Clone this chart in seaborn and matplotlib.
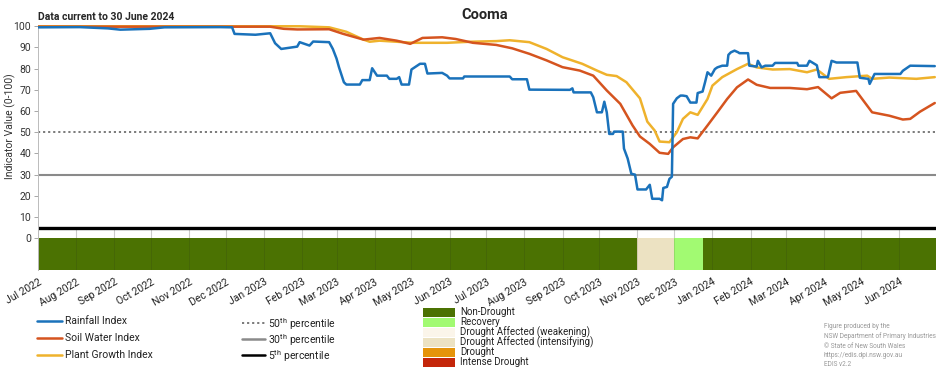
import pandas as pd
import seaborn as sns
import matplotlib.pyplot as plt
import matplotlib.dates as mdates
from matplotlib.lines import Line2D
from matplotlib.patches import Rectangle

# Rainfall Index
rain_dates = [
    '2022-07-01', '2022-08-04', '2022-08-27', '2022-09-06', '2022-09-30', '2022-10-12',
    '2022-11-26', '2022-12-06', '2022-12-08', '2022-12-25', '2023-01-06', '2023-01-10',
    '2023-01-15', '2023-01-28', '2023-01-30', '2023-02-07', '2023-02-10', '2023-02-23',
    '2023-02-26', '2023-03-01', '2023-03-03', '2023-03-07', '2023-03-09', '2023-03-20',
    '2023-03-22', '2023-03-28', '2023-03-30', '2023-04-03', '2023-04-11', '2023-04-13',
    '2023-04-19', '2023-04-21', '2023-04-23', '2023-04-29', '2023-05-01', '2023-05-08',
    '2023-05-12', '2023-05-14', '2023-05-26', '2023-05-30', '2023-06-01', '2023-06-12',
    '2023-06-13', '2023-07-20', '2023-07-22', '2023-08-03', '2023-08-05', '2023-09-07',
    '2023-09-09', '2023-09-10', '2023-09-24', '2023-09-26', '2023-09-29', '2023-10-03',
    '2023-10-05', '2023-10-07', '2023-10-09', '2023-10-12', '2023-10-13', '2023-10-20',
    '2023-10-21', '2023-10-24', '2023-10-27', '2023-10-30', '2023-11-01', '2023-11-08',
    '2023-11-11', '2023-11-13', '2023-11-19', '2023-11-21', '2023-11-22', '2023-11-25',
    '2023-11-27', '2023-11-29', '2023-11-30', '2023-12-03', '2023-12-06', '2023-12-08',
    '2023-12-11', '2023-12-14', '2023-12-19', '2023-12-20', '2023-12-24', '2023-12-26',
    '2023-12-28', '2023-12-31', '2024-01-03', '2024-01-05', '2024-01-09', '2024-01-13',
    '2024-01-14', '2024-01-16', '2024-01-19', '2024-01-22', '2024-01-23', '2024-01-30',
    '2024-01-31', '2024-02-06', '2024-02-07', '2024-02-10', '2024-02-13', '2024-02-19',
    '2024-02-21', '2024-03-10', '2024-03-11', '2024-03-18', '2024-03-20', '2024-03-26',
    '2024-03-28', '2024-04-04', '2024-04-07', '2024-04-11', '2024-04-28', '2024-04-30',
    '2024-05-07', '2024-05-08', '2024-05-12', '2024-06-02', '2024-06-04', '2024-06-10',
    '2024-06-30',
]
rain_values = [
    99.5, 99.6, 99.0, 98.4, 98.8, 99.5,
    99.6, 99.5, 96.4, 96.0, 96.7, 92.0,
    89.3, 90.4, 92.5, 90.9, 92.8, 92.5,
    89.3, 84.8, 80.7, 73.6, 72.5, 72.5,
    74.6, 74.6, 80.2, 76.7, 76.7, 75.2,
    75.2, 76.0, 72.5, 72.5, 79.6, 82.3,
    82.3, 77.7, 78.0, 76.7, 75.4, 75.4,
    76.3, 76.3, 75.0, 75.0, 70.1, 70.0,
    70.7, 68.8, 68.8, 66.5, 59.4, 59.4,
    64.4, 59.4, 49.2, 49.2, 50.3, 50.3,
    42.3, 37.6, 30.4, 30.0, 23.0, 23.0,
    25.2, 18.6, 18.6, 17.9, 23.7, 24.2,
    28.0, 29.0, 63.4, 66.0, 67.3, 67.3,
    67.0, 64.0, 64.0, 68.5, 69.2, 73.6,
    78.3, 76.7, 79.8, 80.6, 81.4, 81.4,
    86.5, 87.7, 88.5, 87.7, 87.3, 87.3,
    81.4, 81.0, 83.7, 80.6, 81.4, 81.4,
    82.7, 82.7, 81.4, 81.4, 83.7, 81.6,
    76.0, 76.0, 83.7, 82.9, 82.9, 75.7,
    75.2, 72.8, 77.5, 77.5, 79.0, 81.4,
    81.2,
]

# Soil Water Index
soil_dates = [
    '2022-07-01', '2023-01-06', '2023-01-17', '2023-01-28', '2023-02-23', '2023-03-06',
    '2023-03-09', '2023-03-23', '2023-04-05', '2023-04-19', '2023-04-30', '2023-05-10',
    '2023-05-26', '2023-06-06', '2023-06-20', '2023-07-09', '2023-07-22', '2023-08-05',
    '2023-08-19', '2023-09-01', '2023-09-15', '2023-09-26', '2023-10-07', '2023-10-18',
    '2023-10-28', '2023-11-03', '2023-11-11', '2023-11-19', '2023-11-26', '2023-11-30',
    '2023-12-08', '2023-12-14', '2023-12-20', '2023-12-28', '2024-01-05', '2024-01-13',
    '2024-01-21', '2024-01-30', '2024-02-06', '2024-02-17', '2024-03-04', '2024-03-18',
    '2024-03-27', '2024-04-07', '2024-04-14', '2024-04-27', '2024-05-10', '2024-05-24',
    '2024-06-04', '2024-06-10', '2024-06-18', '2024-06-30',
]
soil_values = [
    99.8, 99.8, 98.8, 98.5, 98.6, 96.5,
    96.0, 93.7, 94.5, 93.2, 91.7, 94.5,
    94.8, 94.0, 92.2, 91.2, 89.6, 87.0,
    83.9, 80.7, 79.1, 76.7, 69.7, 63.4,
    53.2, 48.0, 44.5, 40.3, 39.8, 42.9,
    46.8, 47.6, 47.1, 53.2, 59.4, 65.7,
    71.2, 74.9, 72.4, 70.9, 70.9, 70.3,
    71.3, 66.0, 68.6, 69.5, 59.4, 57.8,
    56.0, 56.3, 59.7, 63.8,
]

# Plant Growth Index
plant_dates = [
    '2022-07-01', '2023-01-30', '2023-02-23', '2023-03-09', '2023-03-23', '2023-03-28',
    '2023-04-05', '2023-04-19', '2023-05-02', '2023-05-30', '2023-06-18', '2023-07-09',
    '2023-07-20', '2023-08-05', '2023-08-19', '2023-09-01', '2023-09-17', '2023-09-29',
    '2023-10-07', '2023-10-15', '2023-10-23', '2023-11-03', '2023-11-09', '2023-11-15',
    '2023-11-19', '2023-11-27', '2023-12-03', '2023-12-08', '2023-12-14', '2023-12-20',
    '2023-12-28', '2024-01-01', '2024-01-09', '2024-01-21', '2024-01-30', '2024-02-06',
    '2024-02-19', '2024-03-04', '2024-03-18', '2024-03-26', '2024-04-05', '2024-04-19',
    '2024-05-06', '2024-05-10', '2024-05-24', '2024-06-15', '2024-06-30',
]
plant_values = [
    100.0, 100.0, 99.5, 97.4, 93.7, 92.7,
    93.2, 92.7, 92.2, 92.2, 92.7, 93.0,
    93.4, 92.5, 89.3, 85.4, 82.3, 79.1,
    77.1, 76.5, 73.6, 66.0, 55.0, 50.8,
    45.6, 45.3, 50.0, 56.3, 59.4, 58.2,
    65.7, 72.0, 76.0, 79.8, 82.3, 80.6,
    79.6, 79.8, 78.3, 79.6, 75.2, 76.0,
    76.7, 75.2, 75.8, 75.2, 76.0,
]

# Drought category periods
drought_start = ['2022-07-01', '2023-11-01', '2023-12-01', '2023-12-24']
drought_end = ['2023-11-01', '2023-12-01', '2023-12-24', '2024-07-01']
drought_cat = ['Non-Drought', 'Drought Affected (intensifying)', 'Recovery', 'Non-Drought']

category_colors = {
    'Non-Drought': '#4b7202',
    'Recovery': '#a2fa72',
    'Drought Affected (weakening)': '#fbf5ea',
    'Drought Affected (intensifying)': '#ece2c2',
    'Drought': '#e5940a',
    'Intense Drought': '#c4260a',
}
index_colors = {
    'Rainfall Index': '#1a72bb',
    'Soil Water Index': '#d5541f',
    'Plant Growth Index': '#efb22c',
}

sns.set_style('white')
plt.rcParams['font.family'] = ['Roboto', 'DejaVu Sans']
plt.rcParams['mathtext.fontset'] = 'custom'
plt.rcParams['mathtext.rm'] = 'Roboto'

df = pd.concat([
    pd.DataFrame({'date': pd.to_datetime(rain_dates), 'value': rain_values, 'index': 'Rainfall Index'}),
    pd.DataFrame({'date': pd.to_datetime(soil_dates), 'value': soil_values, 'index': 'Soil Water Index'}),
    pd.DataFrame({'date': pd.to_datetime(plant_dates), 'value': plant_values, 'index': 'Plant Growth Index'}),
])

W, H = 952, 370
fig = plt.figure(figsize=(W / 100, H / 100), dpi=100)
ax = fig.add_axes([38 / W, 1 - 270 / H, 898 / W, 245 / H])


def fx(px):
    return px / W


def fy(py):
    return 1 - py / H


# drought category bar below zero
starts = pd.to_datetime(drought_start)
ends = pd.to_datetime(drought_end)
ax.bar(starts, [15] * len(starts), width=(ends - starts).days, bottom=-15, align='edge',
       color=[category_colors[c] for c in drought_cat], linewidth=0, zorder=1)

months = pd.date_range('2022-07-01', '2024-06-01', freq='MS')
ax.vlines(months, 0, 5, color='#cccccc', linewidth=0.8, zorder=0)
ax.vlines(months, -15, 0, color='#222222', linewidth=0.6, alpha=0.15, zorder=2)

# percentile lines
ax.axhline(50, color='#707070', linestyle=(0, (1.2, 1.6)), linewidth=1.3, zorder=2)
ax.axhline(30, color='#8a8a8a', linewidth=1.5, zorder=2)
ax.axhline(5, color='black', linewidth=2.4, zorder=2)

sns.lineplot(data=df, x='date', y='value', hue='index', palette=index_colors,
             hue_order=['Plant Growth Index', 'Soil Water Index', 'Rainfall Index'],
             linewidth=1.8, legend=False, ax=ax, zorder=3)

ax.set_xlim(pd.Timestamp('2022-07-01'), pd.Timestamp('2024-07-01'))
ax.set_ylim(-15, 100.6)
ax.set_yticks([0, 10, 20, 30, 40, 50, 60, 70, 80, 90, 100])
ax.set_xticks(months)
ax.xaxis.set_major_formatter(mdates.DateFormatter('%b %Y'))
ax.tick_params(axis='x', labelsize=7.5, length=0, pad=5, labelcolor='#222222')
ax.tick_params(axis='y', labelsize=7.5, length=3, width=0.6, color='#999999',
               labelcolor='#333333', left=True, pad=2)
plt.setp(ax.get_xticklabels(), rotation=30, ha='right', rotation_mode='anchor')
for side in ['top', 'right', 'bottom']:
    ax.spines[side].set_visible(False)
ax.spines['left'].set_color('#bbbbbb')
ax.spines['left'].set_linewidth(0.7)
ax.set_xlabel('')
ax.set_ylabel('')

fig.text(0.011, 0.66, 'Indicator Value (0-100)', rotation=90, va='center', ha='center',
         fontsize=7.5, color='#333333')
fig.text(fx(485), fy(15), 'Cooma', ha='center', va='center', fontsize=10.5,
         fontweight='bold')
fig.text(fx(38), fy(17), 'Data current to 30 June 2024', ha='left', va='center',
         fontsize=7.5, fontweight='bold')

# legend: indices
for (name, col), py in zip(index_colors.items(), [321, 338, 355]):
    fig.add_artist(Line2D([fx(37), fx(62)], [fy(py), fy(py)], color=col, linewidth=1.8))
    fig.text(fx(65), fy(py), name, ha='left', va='center', fontsize=7.5, color='#222222')

# legend: percentile lines
pct_labels = ['50$^{\\mathrm{th}}$ percentile', '30$^{\\mathrm{th}}$ percentile',
              '5$^{\\mathrm{th}}$ percentile']
pct_styles = [('#707070', (0, (1.2, 1.6)), 1.3), ('#8a8a8a', '-', 1.8), ('black', '-', 1.8)]
for label, (col, ls, lw), py in zip(pct_labels, pct_styles, [323, 339, 355]):
    fig.add_artist(Line2D([fx(242), fx(265)], [fy(py), fy(py)], color=col, linestyle=ls,
                          linewidth=lw))
    fig.text(fx(268), fy(py + 1), label, ha='left', va='center', fontsize=7.5, color='#222222')

# legend: drought categories
for i, (name, col) in enumerate(category_colors.items()):
    py = 312 + 10 * i
    fig.add_artist(Rectangle((fx(423), fy(py + 4.5)), fx(32), 9 / H, facecolor=col,
                             edgecolor='none'))
    fig.text(fx(460), fy(py), name, ha='left', va='center', fontsize=7, color='#222222')

credit = ('Figure produced by the\nNSW Department of Primary Industries\n'
          '\u00a9 State of New South Wales\nhttps://edis.dpi.nsw.gov.au\nEDIS v2.2')
fig.text(fx(824), fy(323), credit, ha='left', va='top', fontsize=4.7,
         color='#999999', linespacing=1.45)

plt.savefig('out.png', dpi=100)
plt.close()
